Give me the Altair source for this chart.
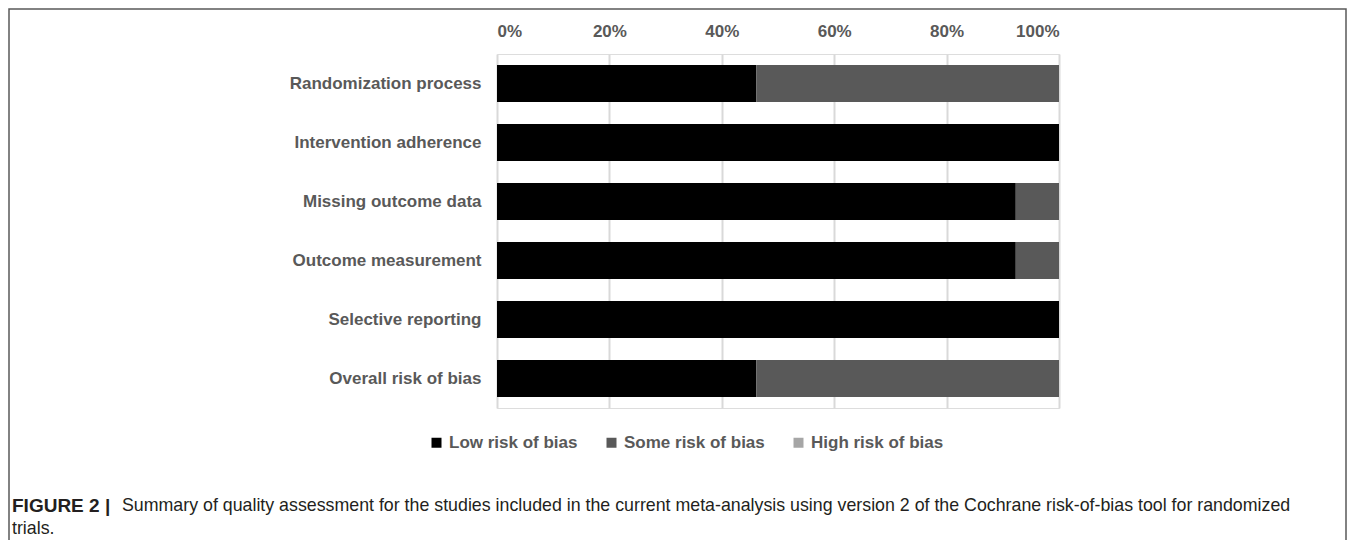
import altair as alt
import pandas as pd

# ---- data (13 studies) ----
domains = [
    "Randomization process",
    "Intervention adherence",
    "Missing outcome data",
    "Outcome measurement",
    "Selective reporting",
    "Overall risk of bias",
]
categories = ["Low risk of bias", "Some risk of bias", "High risk of bias"]
low_risk = [6 / 13, 13 / 13, 12 / 13, 12 / 13, 13 / 13, 6 / 13]
some_risk = [7 / 13, 0 / 13, 1 / 13, 1 / 13, 0 / 13, 7 / 13]
high_risk = [0, 0, 0, 0, 0, 0]
tick_values = [0, 0.2, 0.4, 0.6, 0.8, 1.0]
colors = ["#000000", "#595959", "#a6a6a6"]

caption_bold = ["FIGURE 2 |"]
caption_lines = [
    "Summary of quality assessment for the studies included in the current meta-analysis using version 2 of the Cochrane risk-of-bias tool for randomized",
    "trials.",
]

rows = []
for i, d in enumerate(domains):
    for k, (cat, vals) in enumerate(zip(categories, [low_risk, some_risk, high_risk])):
        rows.append({"domain": d, "category": cat, "value": vals[i], "order": k})
df = pd.DataFrame(rows)

FONT = "Liberation Sans"
GREY = "#595959"

bars = alt.Chart(df).mark_bar().encode(
    y=alt.Y(
        "domain:N",
        sort=domains,
        title=None,
        scale=alt.Scale(paddingInner=0.373, paddingOuter=0.1865),
        axis=alt.Axis(
            domain=False, ticks=False, labelPadding=16, labelLimit=400,
            labelFont=FONT, labelFontSize=17, labelFontWeight="bold", labelColor=GREY,
        ),
    ),
    x=alt.X(
        "value:Q",
        stack="zero",
        title=None,
        scale=alt.Scale(domain=[0, 1], nice=False),
        axis=alt.Axis(
            orient="top", format=".0%", values=tick_values, domain=False, ticks=False,
            grid=True, gridColor="#d9d9d9", gridWidth=2, labelPadding=14,
            labelFont=FONT, labelFontSize=17, labelFontWeight="bold", labelColor=GREY,
        ),
    ),
    color=alt.Color(
        "category:N",
        sort=categories,
        scale=alt.Scale(domain=categories, range=colors),
        legend=alt.Legend(
            title=None, orient="none", direction="horizontal",
            legendX=-69, legendY=380,
            symbolType="square", symbolSize=100, symbolStrokeWidth=0,
            labelOffset=4, columnPadding=25,
            labelFont=FONT, labelFontSize=17, labelFontWeight="bold", labelColor=GREY,
        ),
    ),
    order=alt.Order("order:Q"),
)

one = pd.DataFrame({"a": [0]})
frame = alt.Chart(one).mark_rect(
    fillOpacity=0, stroke=GREY, strokeWidth=1.5
).encode(
    x=alt.value(-488), x2=alt.value(849), y=alt.value(-45), y2=alt.value(500)
)

cap_bold = alt.Chart(pd.DataFrame({"t": caption_bold})).mark_text(
    align="left", baseline="middle", font=FONT, fontSize=19, fontWeight="bold",
    color="#231f20"
).encode(x=alt.value(-485), y=alt.value(452), text="t:N")

cap_df = pd.DataFrame({"t": caption_lines, "line": [0, 1]})
cap1 = alt.Chart(cap_df.iloc[[0]]).mark_text(
    align="left", baseline="middle", font=FONT, fontSize=17.8, color="#231f20"
).encode(x=alt.value(-375), y=alt.value(452), text="t:N")
cap2 = alt.Chart(cap_df.iloc[[1]]).mark_text(
    align="left", baseline="middle", font=FONT, fontSize=17.8, color="#231f20"
).encode(x=alt.value(-485), y=alt.value(475), text="t:N")

chart = alt.layer(frame, bars, cap_bold, cap1, cap2).properties(
    width=562, height=354, padding=0
).configure_view(stroke=None).configure(background="white")

chart.save("out.html", embed_options={"renderer": "svg", "actions": False})
